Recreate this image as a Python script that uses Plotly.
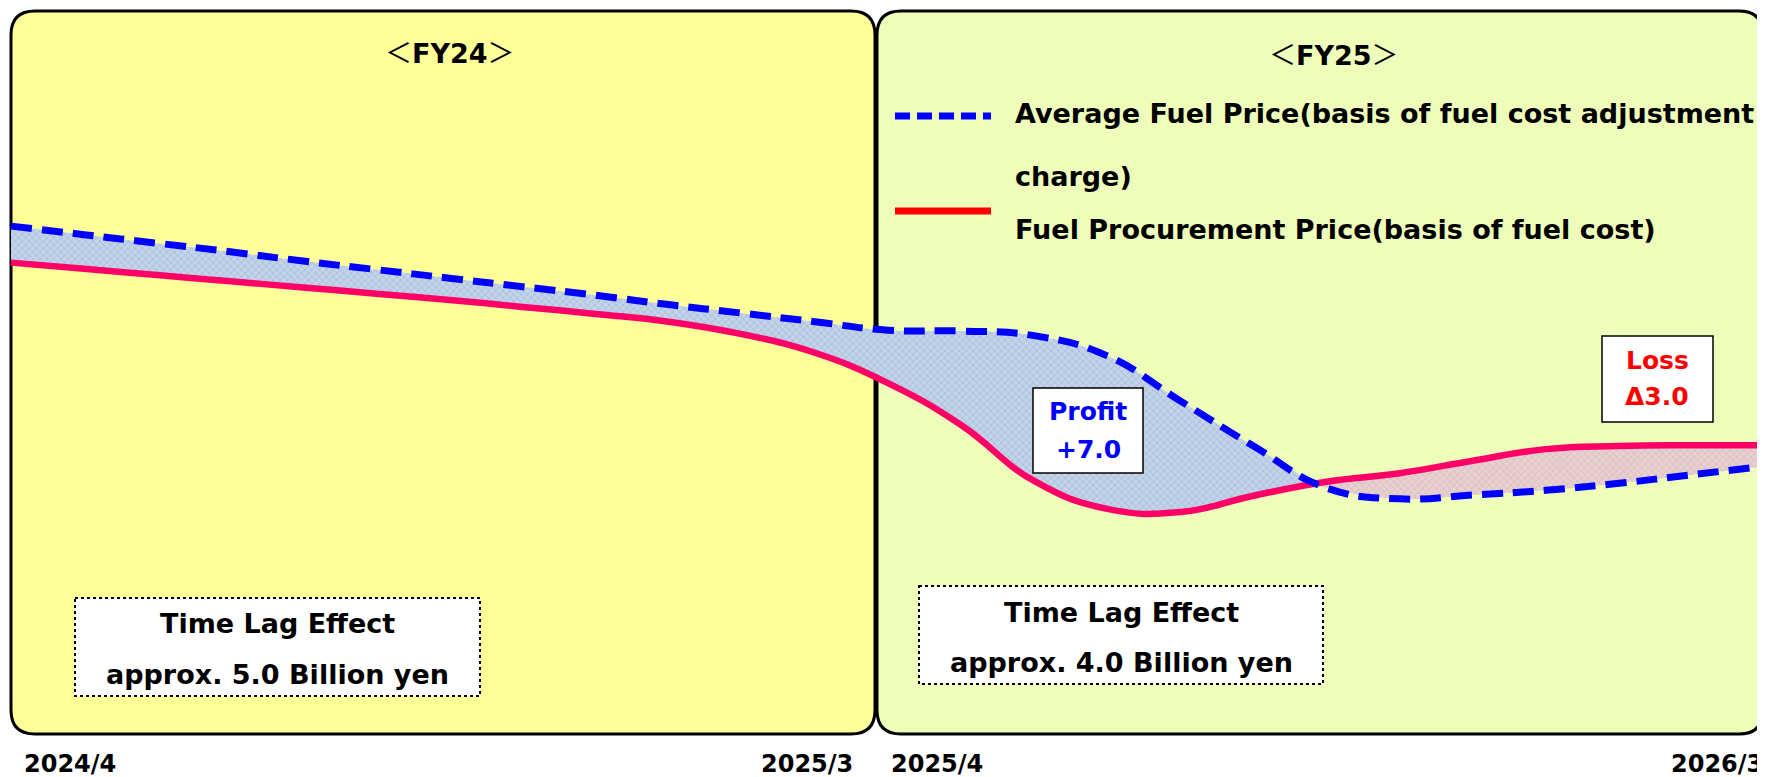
import plotly.graph_objects as go

# the page adds an 8px body margin, so the figure is drawn 8px smaller
OFF = 8
W, H = 1765 - OFF, 777 - OFF

# month index: 0 = 2024/4 ... 24 = end of 2026/3
months = list(range(25))
avg_price = [70.9, 69.8, 68.7, 67.6, 66.4, 65.3, 64.2, 63.1, 62.0, 60.8, 59.7, 58.6, 57.5,
             57.4, 56.8, 54.2, 48.4, 42.6, 37.2, 35.8, 36.3, 36.9, 37.8, 38.9, 40.0]
proc_price = [66.2, 65.4, 64.6, 63.8, 63.0, 62.2, 61.4, 60.5, 59.6, 58.6, 57.0, 54.6, 50.7,
              45.3, 38.1, 34.5, 34.1, 36.2, 38.0, 39.1, 40.7, 42.2, 42.6, 42.7, 42.7]
cross_month, cross_price = 17.82, 37.8

x_labels = ["2024/4", "2025/3", "2025/4", "2026/3"]
fy_titles = ["FY24", "FY25"]
legend_names = ["Average Fuel Price(basis of fuel cost adjustment", "charge)",
                "Fuel Procurement Price(basis of fuel cost)"]
lag_lines = ["Time Lag Effect", "approx. 5.0 Billion yen", "approx. 4.0 Billion yen"]
effect_lines = [("Profit", "+7.0"), ("Loss", "Δ3.0")]

FONT = "DejaVu Sans"
BLUE, RED = "#0000FF", "#FF0066"
SMOOTH = 1.3


def X(p):
    return (p - OFF) / W


def Y(p):
    return 1 - (p - OFF) / H


def rounded(x0, y0, x1, y1, r):
    return (f"M {X(x0 + r)},{Y(y0)} L {X(x1 - r)},{Y(y0)} Q {X(x1)},{Y(y0)} {X(x1)},{Y(y0 + r)} "
            f"L {X(x1)},{Y(y1 - r)} Q {X(x1)},{Y(y1)} {X(x1 - r)},{Y(y1)} "
            f"L {X(x0 + r)},{Y(y1)} Q {X(x0)},{Y(y1)} {X(x0)},{Y(y1 - r)} "
            f"L {X(x0)},{Y(y0 + r)} Q {X(x0)},{Y(y0)} {X(x0 + r)},{Y(y0)} Z")


fig = go.Figure()

# fills between the curves (profit part / loss part)
n = 18
seg_pm = months[:n] + [cross_month]
fig.add_trace(go.Scatter(x=seg_pm, y=proc_price[:n] + [cross_price], mode="lines",
                         line=dict(width=0, shape="spline", smoothing=SMOOTH),
                         showlegend=False, hoverinfo="skip"))
fig.add_trace(go.Scatter(x=seg_pm, y=avg_price[:n] + [cross_price], mode="lines",
                         line=dict(width=0, shape="spline", smoothing=SMOOTH), fill="tonexty",
                         fillcolor="#BFD0E8",
                         fillpattern=dict(shape="x", size=5, solidity=0.3,
                                          bgcolor="#C2D3EA", fgcolor="#8FA7C6"),
                         showlegend=False, hoverinfo="skip"))
seg_lm = [cross_month] + months[n:]
fig.add_trace(go.Scatter(x=seg_lm, y=[cross_price] + avg_price[n:], mode="lines",
                         line=dict(width=0, shape="spline", smoothing=SMOOTH),
                         showlegend=False, hoverinfo="skip"))
fig.add_trace(go.Scatter(x=seg_lm, y=[cross_price] + proc_price[n:], mode="lines",
                         line=dict(width=0, shape="spline", smoothing=SMOOTH), fill="tonexty",
                         fillcolor="#E6CCCC",
                         fillpattern=dict(shape="x", size=5, solidity=0.3,
                                          bgcolor="#E8D0D0", fgcolor="#C9AAAA"),
                         showlegend=False, hoverinfo="skip"))

# the two price curves
fig.add_trace(go.Scatter(x=months, y=proc_price, mode="lines", name=legend_names[2],
                         line=dict(color=RED, width=6.5, shape="spline", smoothing=SMOOTH),
                         showlegend=False))
fig.add_trace(go.Scatter(x=months, y=avg_price, mode="lines", name=legend_names[0],
                         line=dict(color=BLUE, width=7, shape="spline", smoothing=SMOOTH,
                                   dash="21px,10px"),
                         showlegend=False))

shapes = [
    dict(type="path", path=rounded(11, 11, 875, 734, 24), xref="paper", yref="paper",
         fillcolor="#FFFF99", line=dict(color="black", width=3), layer="below"),
    dict(type="path", path=rounded(877, 11, 1763, 734, 24), xref="paper", yref="paper",
         fillcolor="#EEFDB9", line=dict(color="black", width=3), layer="below"),
    # legend keys
    dict(type="line", xref="paper", yref="paper", x0=X(895), x1=X(991), y0=Y(116), y1=Y(116),
         line=dict(color=BLUE, width=7, dash="15px,7px")),
    dict(type="line", xref="paper", yref="paper", x0=X(895), x1=X(991), y0=Y(211), y1=Y(211),
         line=dict(color="#FF0000", width=7)),
    # time lag boxes
    dict(type="rect", xref="paper", yref="paper", x0=X(75), x1=X(480), y0=Y(598), y1=Y(696),
         fillcolor="white", line=dict(color="black", width=2, dash="dot")),
    dict(type="rect", xref="paper", yref="paper", x0=X(919), x1=X(1323), y0=Y(586), y1=Y(684),
         fillcolor="white", line=dict(color="black", width=2, dash="dot")),
    # profit / loss boxes
    dict(type="rect", xref="paper", yref="paper", x0=X(1033), x1=X(1143), y0=Y(388), y1=Y(473),
         fillcolor="white", line=dict(color="black", width=1.5)),
    dict(type="rect", xref="paper", yref="paper", x0=X(1602), x1=X(1713), y0=Y(336), y1=Y(422),
         fillcolor="white", line=dict(color="black", width=1.5)),
]

ann = []


def text(x, y, s, size=26, color="black", xanchor="center"):
    ann.append(dict(x=X(x), y=Y(y), xref="paper", yref="paper", text=f"<b>{s}</b>",
                    showarrow=False, xanchor=xanchor, yanchor="middle", align="center",
                    font=dict(family=FONT, size=size, color=color)))


def fy(s):
    br = '<span style="font-family:Noto Sans CJK JP;font-weight:normal">{}</span>'
    return br.format("＜") + s + br.format("＞")


text(450, 51, fy(fy_titles[0]), size=27)
text(1334, 53, fy(fy_titles[1]), size=27)
text(1013, 114, legend_names[0], size=27, xanchor="left")
text(1013, 177, legend_names[1], size=27, xanchor="left")
text(1013, 230, legend_names[2], size=27, xanchor="left")
text(277, 623, lag_lines[0], size=27)
text(277, 674, lag_lines[1], size=27)
text(1121, 612, lag_lines[0], size=27)
text(1121, 662, lag_lines[2], size=27)
text(1088, 412, effect_lines[0][0], size=25, color=BLUE)
text(1088, 449, effect_lines[0][1], size=25, color=BLUE)
text(1657, 360, effect_lines[1][0], size=25, color="#FF0000")
text(1657, 397, effect_lines[1][1], size=25, color="#FF0000")
text(22, 764, x_labels[0], size=24, xanchor="left")
text(855, 764, x_labels[1], size=24, xanchor="right")
text(889, 764, x_labels[2], size=24, xanchor="left")
text(1765, 764, x_labels[3], size=24, xanchor="right")

fig.update_layout(
    width=W, height=H, margin=dict(l=0, r=0, t=0, b=0),
    paper_bgcolor="white", plot_bgcolor="rgba(0,0,0,0)",
    xaxis=dict(range=[-3 / 73.08, 24], visible=False, fixedrange=True),
    yaxis=dict(range=[0, 100 - OFF / 7.77], visible=False, fixedrange=True),
    shapes=shapes, annotations=ann, showlegend=False,
)
fig.write_html("out.html")
